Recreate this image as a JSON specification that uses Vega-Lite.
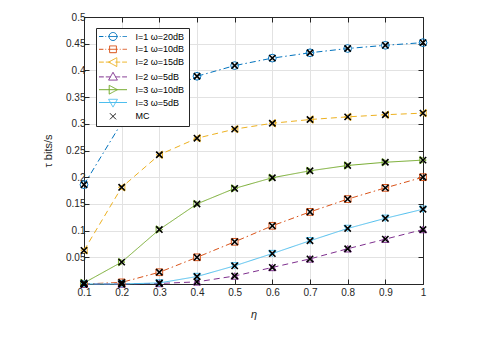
{
  "$schema": "https://vega.github.io/schema/vega-lite/v6.json",
  "width": 339,
  "height": 267,
  "autosize": {"type": "none"},
  "padding": {"left": 84, "top": 17, "right": 72, "bottom": 61},
  "background": "white",
  "config": {
    "font": "Liberation Sans",
    "view": {"stroke": null},
    "axis": {
      "domainColor": "#262626",
      "tickColor": "#262626",
      "labelColor": "#262626",
      "titleColor": "#262626",
      "labelFont": "Liberation Sans",
      "titleFont": "Liberation Sans",
      "labelFontSize": 10,
      "titleFontSize": 11,
      "titleFontWeight": "normal",
      "gridColor": "#e2e2e2",
      "gridWidth": 1,
      "tickSize": -5,
      "tickWidth": 1,
      "domainWidth": 1,
      "labelOverlap": false,
      "labelBound": false,
      "labelFlush": false
    },
    "legend": {
      "labelFont": "Liberation Sans",
      "labelFontSize": 9,
      "labelColor": "#000000",
      "title": null,
      "orient": "none",
      "legendX": 12,
      "legendY": 11,
      "strokeColor": "#262626",
      "fillColor": "white",
      "padding": 4,
      "symbolSize": 64,
      "symbolOffset": 8.5,
      "rowPadding": 0.8,
      "labelOffset": 18
    },
    "point": {"filled": false, "strokeWidth": 1, "size": 55, "opacity": 1, "clip": false}
  },
  "data": {
    "values": [
      {"s": "I=1 ω=20dB", "eta": 0.1, "tau": 0.186},
      {"s": "I=1 ω=20dB", "eta": 0.2, "tau": 0.302},
      {"s": "I=1 ω=20dB", "eta": 0.3, "tau": 0.355},
      {"s": "I=1 ω=20dB", "eta": 0.4, "tau": 0.389},
      {"s": "I=1 ω=20dB", "eta": 0.5, "tau": 0.409},
      {"s": "I=1 ω=20dB", "eta": 0.6, "tau": 0.423},
      {"s": "I=1 ω=20dB", "eta": 0.7, "tau": 0.433},
      {"s": "I=1 ω=20dB", "eta": 0.8, "tau": 0.441},
      {"s": "I=1 ω=20dB", "eta": 0.9, "tau": 0.447},
      {"s": "I=1 ω=20dB", "eta": 1.0, "tau": 0.452},
      {"s": "I=1 ω=10dB", "eta": 0.1, "tau": 0.0},
      {"s": "I=1 ω=10dB", "eta": 0.2, "tau": 0.003},
      {"s": "I=1 ω=10dB", "eta": 0.3, "tau": 0.022},
      {"s": "I=1 ω=10dB", "eta": 0.4, "tau": 0.05},
      {"s": "I=1 ω=10dB", "eta": 0.5, "tau": 0.079},
      {"s": "I=1 ω=10dB", "eta": 0.6, "tau": 0.109},
      {"s": "I=1 ω=10dB", "eta": 0.7, "tau": 0.135},
      {"s": "I=1 ω=10dB", "eta": 0.8, "tau": 0.159},
      {"s": "I=1 ω=10dB", "eta": 0.9, "tau": 0.18},
      {"s": "I=1 ω=10dB", "eta": 1.0, "tau": 0.2},
      {"s": "I=2 ω=15dB", "eta": 0.1, "tau": 0.063},
      {"s": "I=2 ω=15dB", "eta": 0.2, "tau": 0.181},
      {"s": "I=2 ω=15dB", "eta": 0.3, "tau": 0.242},
      {"s": "I=2 ω=15dB", "eta": 0.4, "tau": 0.273},
      {"s": "I=2 ω=15dB", "eta": 0.5, "tau": 0.29},
      {"s": "I=2 ω=15dB", "eta": 0.6, "tau": 0.301},
      {"s": "I=2 ω=15dB", "eta": 0.7, "tau": 0.308},
      {"s": "I=2 ω=15dB", "eta": 0.8, "tau": 0.313},
      {"s": "I=2 ω=15dB", "eta": 0.9, "tau": 0.317},
      {"s": "I=2 ω=15dB", "eta": 1.0, "tau": 0.32},
      {"s": "I=2 ω=5dB", "eta": 0.1, "tau": 0.0},
      {"s": "I=2 ω=5dB", "eta": 0.2, "tau": 0.0},
      {"s": "I=2 ω=5dB", "eta": 0.3, "tau": 0.001},
      {"s": "I=2 ω=5dB", "eta": 0.4, "tau": 0.004},
      {"s": "I=2 ω=5dB", "eta": 0.5, "tau": 0.015},
      {"s": "I=2 ω=5dB", "eta": 0.6, "tau": 0.031},
      {"s": "I=2 ω=5dB", "eta": 0.7, "tau": 0.047},
      {"s": "I=2 ω=5dB", "eta": 0.8, "tau": 0.066},
      {"s": "I=2 ω=5dB", "eta": 0.9, "tau": 0.084},
      {"s": "I=2 ω=5dB", "eta": 1.0, "tau": 0.102},
      {"s": "I=3 ω=10dB", "eta": 0.1, "tau": 0.002},
      {"s": "I=3 ω=10dB", "eta": 0.2, "tau": 0.041},
      {"s": "I=3 ω=10dB", "eta": 0.3, "tau": 0.102},
      {"s": "I=3 ω=10dB", "eta": 0.4, "tau": 0.15},
      {"s": "I=3 ω=10dB", "eta": 0.5, "tau": 0.179},
      {"s": "I=3 ω=10dB", "eta": 0.6, "tau": 0.199},
      {"s": "I=3 ω=10dB", "eta": 0.7, "tau": 0.212},
      {"s": "I=3 ω=10dB", "eta": 0.8, "tau": 0.222},
      {"s": "I=3 ω=10dB", "eta": 0.9, "tau": 0.228},
      {"s": "I=3 ω=10dB", "eta": 1.0, "tau": 0.232},
      {"s": "I=3 ω=5dB", "eta": 0.1, "tau": 0.0},
      {"s": "I=3 ω=5dB", "eta": 0.2, "tau": 0.0},
      {"s": "I=3 ω=5dB", "eta": 0.3, "tau": 0.002},
      {"s": "I=3 ω=5dB", "eta": 0.4, "tau": 0.014},
      {"s": "I=3 ω=5dB", "eta": 0.5, "tau": 0.034},
      {"s": "I=3 ω=5dB", "eta": 0.6, "tau": 0.057},
      {"s": "I=3 ω=5dB", "eta": 0.7, "tau": 0.081},
      {"s": "I=3 ω=5dB", "eta": 0.8, "tau": 0.104},
      {"s": "I=3 ω=5dB", "eta": 0.9, "tau": 0.123},
      {"s": "I=3 ω=5dB", "eta": 1.0, "tau": 0.14}
    ]
  },
  "resolve": {"axis": {"x": "independent", "y": "independent"}},
  "layer": [
    {
      "mark": {"type": "line", "strokeWidth": 1, "clip": false},
      "encoding": {
        "x": {
          "field": "eta", "type": "quantitative",
          "scale": {"domain": [0.1, 1], "nice": false, "zero": false},
          "axis": {"orient": "bottom", "values": [0.1, 0.2, 0.3, 0.4, 0.5, 0.6, 0.7, 0.8, 0.9, 1], "format": "~g", "title": "η", "titleFontStyle": "italic", "grid": true, "labelPadding": 8, "titlePadding": 11}
        },
        "y": {
          "field": "tau", "type": "quantitative",
          "scale": {"domain": [0, 0.5], "nice": false, "zero": true},
          "axis": {"orient": "left", "values": [0, 0.05, 0.1, 0.15, 0.2, 0.25, 0.3, 0.35, 0.4, 0.45, 0.5], "format": "~g", "title": "τ bits/s", "grid": true, "labelPadding": 4, "titlePadding": 12}
        },
        "color": {
          "field": "s", "type": "nominal",
          "scale": {
            "domain": ["I=1 ω=20dB", "I=1 ω=10dB", "I=2 ω=15dB", "I=2 ω=5dB", "I=3 ω=10dB", "I=3 ω=5dB", "MC"],
            "range": ["#0072BD", "#D95319", "#EDB120", "#7E2F8E", "#77AC30", "#4DBEEE", "#000000"]
          },
          "legend": {
            "encode": {"symbols": {"update": {
              "shape": {"signal": "datum.value==='I=1 ω=20dB' ? 'M-3.5,0H-2.4M-1.9,0H-1.7M-1.2,0H1.2M1.7,0H1.9M2.4,0H3.5M-1,0A1,1 0 1,0 1,0A1,1 0 1,0 -1,0' : datum.value==='I=1 ω=10dB' ? 'M-3.5,0H-2.4M-1.9,0H-1.7M-1.2,0H1.2M1.7,0H1.9M2.4,0H3.5M-0.85,-0.85H0.85V0.85H-0.85Z' : datum.value==='I=2 ω=15dB' ? 'M-3.5,0H-2.3M-1.8,0H-0.6M0.6,0H1.8M2.3,0H3.5M-1.1,0L0.95,-1.1L0.95,1.1Z' : datum.value==='I=2 ω=5dB' ? 'M-3.5,0H-2.3M-1.8,0H-0.6M0.6,0H1.8M2.3,0H3.5M0,-1.15L1.1,0.8L-1.1,0.8Z' : datum.value==='I=3 ω=10dB' ? 'M-3.5,0H3.5M1.1,0L-0.95,-1.1L-0.95,1.1Z' : datum.value==='I=3 ω=5dB' ? 'M-3.5,0H3.5M0,1.15L1.1,-0.8L-1.1,-0.8Z' : 'M-0.75,-0.75L0.75,0.75M0.75,-0.75L-0.75,0.75'"},
              "fill": {"value": "transparent"},
              "strokeWidth": {"value": 1},
              "strokeDash": {"value": [1, 0]},
              "size": {"value": 64},
              "opacity": {"value": 1}
            }}}
          }
        },
        "strokeDash": {
          "field": "s", "type": "nominal",
          "scale": {
            "domain": ["I=1 ω=20dB", "I=1 ω=10dB", "I=2 ω=15dB", "I=2 ω=5dB", "I=3 ω=10dB", "I=3 ω=5dB"],
            "range": [[6, 3, 1.5, 3], [6, 3, 1.5, 3], [6, 4], [6, 4], [1, 0], [1, 0]]
          },
          "legend": null
        }
      }
    },
    {
      "transform": [{"filter": {"field": "s", "equal": "I=1 ω=20dB"}}],
      "mark": {"type": "point", "shape": "circle", "size": 60},
      "encoding": {
        "x": {"field": "eta", "type": "quantitative", "axis": {"orient": "top", "values": [0.1, 0.2, 0.3, 0.4, 0.5, 0.6, 0.7, 0.8, 0.9, 1], "labels": false, "grid": false, "title": null}},
        "y": {"field": "tau", "type": "quantitative", "axis": {"orient": "right", "values": [0, 0.05, 0.1, 0.15, 0.2, 0.25, 0.3, 0.35, 0.4, 0.45, 0.5], "labels": false, "grid": false, "title": null}},
        "color": {"field": "s", "type": "nominal"}
      }
    },
    {
      "transform": [{"filter": {"field": "s", "equal": "I=1 ω=10dB"}}],
      "mark": {"type": "point", "shape": "square", "size": 45},
      "encoding": {
        "x": {"field": "eta", "type": "quantitative", "axis": null},
        "y": {"field": "tau", "type": "quantitative", "axis": null},
        "color": {"field": "s", "type": "nominal"}
      }
    },
    {
      "transform": [{"filter": {"field": "s", "equal": "I=2 ω=15dB"}}],
      "mark": {"type": "point", "shape": "triangle-left", "size": 55},
      "encoding": {
        "x": {"field": "eta", "type": "quantitative", "axis": null},
        "y": {"field": "tau", "type": "quantitative", "axis": null},
        "color": {"field": "s", "type": "nominal"}
      }
    },
    {
      "transform": [{"filter": {"field": "s", "equal": "I=2 ω=5dB"}}],
      "mark": {"type": "point", "shape": "triangle-up", "size": 55},
      "encoding": {
        "x": {"field": "eta", "type": "quantitative", "axis": null},
        "y": {"field": "tau", "type": "quantitative", "axis": null},
        "color": {"field": "s", "type": "nominal"}
      }
    },
    {
      "transform": [{"filter": {"field": "s", "equal": "I=3 ω=10dB"}}],
      "mark": {"type": "point", "shape": "triangle-right", "size": 55},
      "encoding": {
        "x": {"field": "eta", "type": "quantitative", "axis": null},
        "y": {"field": "tau", "type": "quantitative", "axis": null},
        "color": {"field": "s", "type": "nominal"}
      }
    },
    {
      "transform": [{"filter": {"field": "s", "equal": "I=3 ω=5dB"}}],
      "mark": {"type": "point", "shape": "triangle-down", "size": 55},
      "encoding": {
        "x": {"field": "eta", "type": "quantitative", "axis": null},
        "y": {"field": "tau", "type": "quantitative", "axis": null},
        "color": {"field": "s", "type": "nominal"}
      }
    },
    {
      "mark": {"type": "point", "shape": "M-1,-1L1,1M1,-1L-1,1", "strokeWidth": 1.6, "size": 40},
      "encoding": {
        "x": {"field": "eta", "type": "quantitative", "axis": null},
        "y": {"field": "tau", "type": "quantitative", "axis": null},
        "color": {"datum": "MC", "type": "nominal"}
      }
    }
  ]
}
